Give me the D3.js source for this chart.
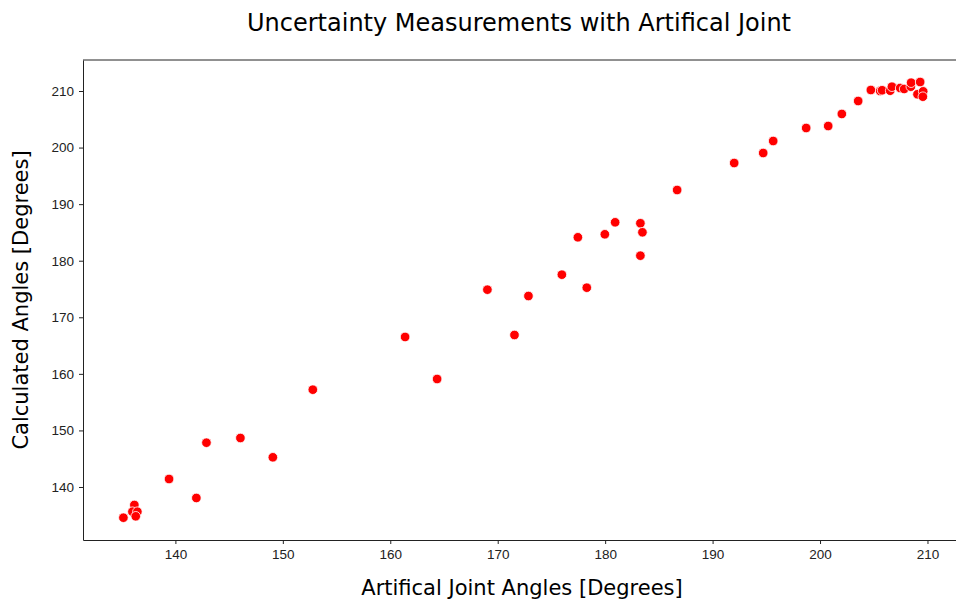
<!DOCTYPE html>
<html>
<head>
<meta charset="utf-8">
<script src="https://cdn.jsdelivr.net/npm/d3@7"></script>
<style>
    body { margin: 0; background: #fff; overflow: hidden; }
    svg { display: block; font-family: "DejaVu Sans", sans-serif; }
    .axis text { font-size: 13.5px; fill: #222; }
    .axis path, .axis line { stroke: #222; }
</style>
</head>
<body>
<script>
// joint angles, x = artifical joint, y = calculated
var jointAngles = [135.16, 136.18, 136.0, 136.46, 136.31, 139.41, 141.95, 142.89, 146.05, 149.07,
    152.79, 161.38, 164.36, 169.04, 171.56, 172.86, 175.97, 178.29, 177.46, 179.97,
    180.93, 183.28, 183.47, 183.28, 186.70, 192.01, 194.71, 195.64, 198.71, 200.76,
    202.03, 203.55, 204.73, 205.60, 205.78, 206.53, 206.69, 207.46, 207.83, 208.45,
    208.48, 209.32, 209.07, 209.60, 209.57];
var calcAngles = [134.57, 136.82, 135.63, 135.63, 134.82, 141.41, 138.06, 147.83, 148.66, 145.25,
    157.20, 166.52, 159.09, 174.88, 166.87, 173.76, 177.53, 175.23, 184.14, 184.67,
    186.79, 186.62, 185.02, 180.89, 192.50, 197.27, 199.04, 201.16, 203.46, 203.81,
    205.94, 208.23, 210.18, 210.00, 210.13, 210.05, 210.76, 210.53, 210.36, 210.76,
    211.47, 211.59, 209.42, 209.94, 208.99];
var xTicks = [140, 150, 160, 170, 180, 190, 200, 210];
var yTicks = [140, 150, 160, 170, 180, 190, 200, 210];

var margin = { top: 60, left: 83 },
    width = 881,   // right spine falls just past the picture edge
    height = 480;

var svg = d3.select("body").append("svg")
    .attr("width", 956)
    .attr("height", 600);

var g = svg.append("g")
    .attr("transform", "translate(" + margin.left + "," + margin.top + ")");

var x = d3.scaleLinear()
    .domain([131.4, 213.4])
    .range([0, width]);

var y = d3.scaleLinear()
    .domain([130.63, 215.48])
    .range([height, 0]);

var data = jointAngles.map(function(d, i) {
    return { x: d, y: calcAngles[i] };
});

// x-axis
g.append("g")
    .attr("class", "axis")
    .attr("transform", "translate(0," + height + ")")
    .call(d3.axisBottom(x).tickValues(xTicks).tickSize(4).tickPadding(5).tickSizeOuter(0));

// y-axis
g.append("g")
    .attr("class", "axis")
    .call(d3.axisLeft(y).tickValues(yTicks).tickSize(4).tickPadding(5).tickSizeOuter(0));

// frame: top and right spines
g.append("line")
    .attr("x1", 0).attr("x2", width)
    .attr("y1", 0).attr("y2", 0)
    .attr("stroke", "#222");
g.append("line")
    .attr("x1", width).attr("x2", width)
    .attr("y1", 0).attr("y2", height)
    .attr("stroke", "#222");

// draw dots
g.selectAll(".point")
    .data(data)
    .enter().append("circle")
    .attr("class", "point")
    .attr("cx", function(d) { return x(d.x); })
    .attr("cy", function(d) { return y(d.y); })
    .attr("r", 4.8)
    .attr("fill", "#ff0000")
    .attr("stroke", "#fff")
    .attr("stroke-width", 0.8);

// title and labels
svg.append("text")
    .attr("x", 519)
    .attr("y", 31)
    .attr("text-anchor", "middle")
    .style("font-size", "24px")
    .text("Uncertainty Measurements with Artifical Joint");

svg.append("text")
    .attr("x", 522)
    .attr("y", 595)
    .attr("text-anchor", "middle")
    .style("font-size", "21px")
    .text("Artifical Joint Angles [Degrees]");

svg.append("text")
    .attr("transform", "translate(28," + (margin.top + height / 2) + ") rotate(-90)")
    .attr("text-anchor", "middle")
    .style("font-size", "21px")
    .text("Calculated Angles [Degrees]");
</script>
</body>
</html>
